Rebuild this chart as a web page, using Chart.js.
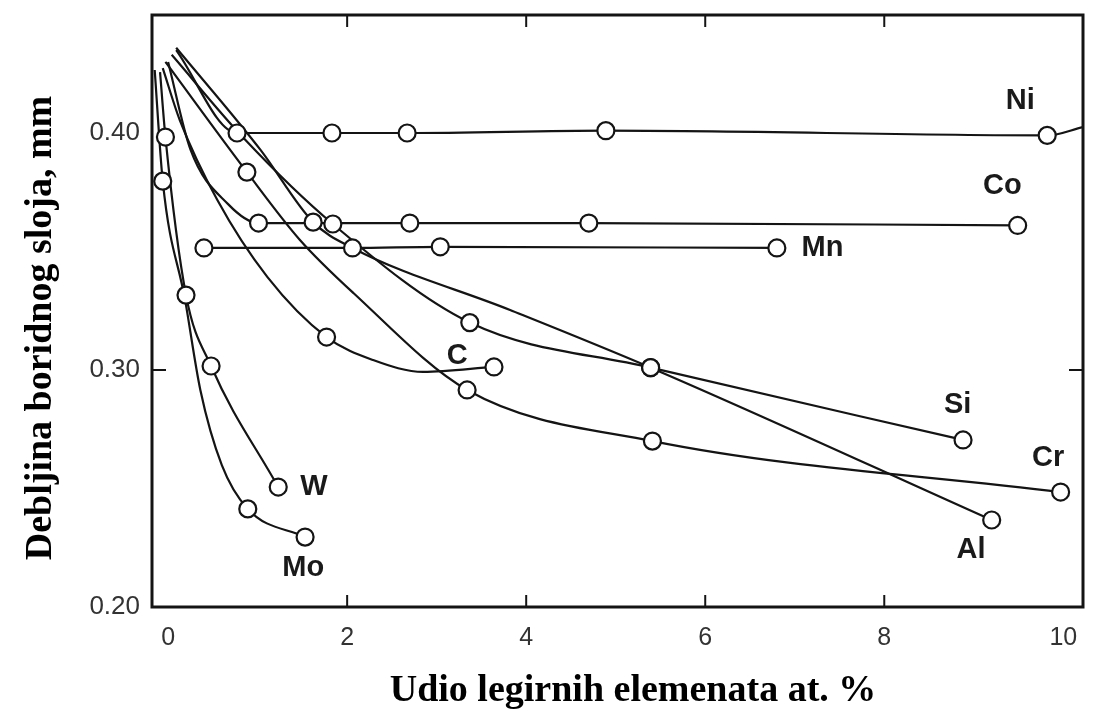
<!DOCTYPE html>
<html><head><meta charset="utf-8">
<script src="https://cdn.jsdelivr.net/npm/chart.js@4/dist/chart.umd.min.js"></script>
<style>html,body{margin:0;padding:0;background:#fff}</style>
</head><body>
<canvas id="c" width="1100" height="713"></canvas>
<script>
// ---- data (x: at.% alloying element, y: boride layer thickness, mm) ----
const xTicks = [0, 2, 4, 6, 8, 10];
const yTicks = [0.20, 0.30, 0.40];

// measured points (circles)
const niX = [0.77, 1.83, 2.67, 4.89, 9.82];
const niY = [0.400, 0.400, 0.400, 0.401, 0.399];
const coX = [1.01, 2.70, 4.70, 9.49];
const coY = [0.362, 0.362, 0.362, 0.361];
const mnX = [0.40, 2.06, 3.04, 6.80];
const mnY = [0.3515, 0.3515, 0.352, 0.3515];
const siX = [1.84, 3.37, 5.39, 8.88];
const siY = [0.3616, 0.320, 0.301, 0.2705];
const alX = [1.62, 5.39, 9.20];
const alY = [0.3624, 0.301, 0.2367];
const crX = [0.88, 3.34, 5.41, 9.97];
const crY = [0.3835, 0.2916, 0.270, 0.2485];
const cX = [1.77, 3.64];
const cY = [0.3139, 0.3013];
const wX = [-0.03, 0.20, 0.48, 1.23];
const wY = [0.3983, 0.3316, 0.3017, 0.2506];
const moX = [-0.06, 0.89, 1.53];
const moY = [0.3797, 0.2414, 0.2295];

// hand-drawn curve guide points (no circle)
const niGuideX = [0.09, 10.22];
const niGuideY = [0.435, 0.4025];
const coGuideX = [0.00, 0.25, 0.67];
const coGuideY = [0.430, 0.393, 0.370];
const mnGuideX = [];
const mnGuideY = [];
const siGuideX = [0.04, 0.84];
const siGuideY = [0.433, 0.398];
const alGuideX = [0.09, 1.03, 2.06, 3.82];
const alGuideY = [0.436, 0.393, 0.3515, 0.3253];
const crGuideX = [-0.03, 1.47, 2.07];
const crGuideY = [0.430, 0.355, 0.3325];
const cGuideX = [-0.06, 0.13, 0.55, 1.11, 2.29, 2.85];
const cGuideY = [0.4274, 0.4055, 0.3717, 0.3392, 0.3042, 0.2992];
const wGuideX = [-0.09];
const wGuideY = [0.4257];
const moGuideX = [-0.15, 0.19, 0.36, 0.60];
const moGuideY = [0.4266, 0.3295, 0.2916, 0.2599];

// curve labels
const labelText = ['Ni', 'Co', 'Mn', 'C', 'Si', 'Cr', 'Al', 'W', 'Mo'];
const labelX = [9.52, 9.32, 7.31, 3.23, 8.82, 9.83, 8.97, 1.63, 1.51];
const labelY = [0.4135, 0.3776, 0.3515, 0.3059, 0.2852, 0.2629, 0.2241, 0.2506, 0.2165];

const xTitle = 'Udio legirnih elemenata at. %';
const yTitle = 'Debljina boridnog sloja, mm';

// ---- build datasets ----
const elements = [
  [niX, niY, niGuideX, niGuideY],
  [coX, coY, coGuideX, coGuideY],
  [mnX, mnY, mnGuideX, mnGuideY],
  [siX, siY, siGuideX, siGuideY],
  [alX, alY, alGuideX, alGuideY],
  [crX, crY, crGuideX, crGuideY],
  [cX, cY, cGuideX, cGuideY],
  [wX, wY, wGuideX, wGuideY],
  [moX, moY, moGuideX, moGuideY]
];
const ink = '#141414';
const datasets = [];
elements.forEach(([mx, my, gx, gy]) => {
  const pts = mx.map((x, i) => ({x, y: my[i]})).concat(gx.map((x, i) => ({x, y: gy[i]})));
  pts.sort((a, b) => a.x - b.x);
  datasets.push({
    type: 'line', data: pts, borderColor: ink, borderWidth: 2.2,
    pointRadius: 0, cubicInterpolationMode: 'monotone', fill: false, order: 2
  });
  datasets.push({
    type: 'scatter', data: mx.map((x, i) => ({x, y: my[i]})),
    pointRadius: 8.5, pointBackgroundColor: '#fff', pointBorderColor: ink,
    pointBorderWidth: 2.2, order: 1
  });
});

const deco = {
  id: 'deco',
  afterDatasetsDraw(chart) {
    const {ctx, chartArea: a, scales: {x, y}} = chart;
    ctx.save();
    // frame
    ctx.strokeStyle = ink; ctx.lineWidth = 3;
    ctx.strokeRect(a.left, a.top, a.right - a.left, a.bottom - a.top);
    // inward ticks
    ctx.lineWidth = 2;
    [2, 4, 6, 8].forEach(v => {
      const px = x.getPixelForValue(v);
      ctx.beginPath(); ctx.moveTo(px, a.bottom); ctx.lineTo(px, a.bottom - 12); ctx.stroke();
      ctx.beginPath(); ctx.moveTo(px, a.top); ctx.lineTo(px, a.top + 12); ctx.stroke();
    });
    const py = y.getPixelForValue(0.30);
    ctx.beginPath(); ctx.moveTo(a.left, py); ctx.lineTo(a.left + 14, py); ctx.stroke();
    ctx.beginPath(); ctx.moveTo(a.right, py); ctx.lineTo(a.right - 14, py); ctx.stroke();
    // curve labels
    ctx.fillStyle = '#1a1a1a';
    ctx.font = 'bold 29px "Liberation Sans", Arial, sans-serif';
    ctx.textAlign = 'center'; ctx.textBaseline = 'middle';
    labelText.forEach((t, i) => ctx.fillText(t, x.getPixelForValue(labelX[i]), y.getPixelForValue(labelY[i])));
    // axis titles
    ctx.fillStyle = '#000';
    ctx.font = 'bold 38px "Liberation Serif", "Times New Roman", serif';
    ctx.fillText(xTitle, 633, 691);
    ctx.translate(41, 328); ctx.rotate(-Math.PI / 2);
    ctx.fillText(yTitle, 0, 0);
    ctx.restore();
  }
};

const noPad = s => { s.paddingTop = 0; s.paddingBottom = 0; s.paddingLeft = 0; s.paddingRight = 0; };

new Chart(document.getElementById('c'), {
  data: {datasets},
  options: {
    responsive: false, animation: false,
    layout: {padding: {top: 15, right: 17, left: 0, bottom: 0}},
    plugins: {legend: {display: false}, tooltip: {enabled: false}},
    scales: {
      x: {
        type: 'linear', min: -0.18, max: 10.22,
        afterBuildTicks: s => { s.ticks = xTicks.map(v => ({value: v})); },
        afterFit: s => { s.height = 106; noPad(s); },
        grid: {display: false, drawTicks: false}, border: {display: false},
        ticks: {color: '#333', padding: 16, font: {size: 25, family: '"Liberation Sans", Arial, sans-serif'},
          callback: v => String(v), maxRotation: 0}
      },
      y: {
        type: 'linear', min: 0.20, max: 0.4498,
        afterBuildTicks: s => { s.ticks = yTicks.map(v => ({value: v})); },
        afterFit: s => { s.width = 152; noPad(s); },
        grid: {display: false, drawTicks: false}, border: {display: false},
        ticks: {color: '#333', padding: 12, font: {size: 26, family: '"Liberation Sans", Arial, sans-serif'},
          callback: v => Number(v).toFixed(2)}
      }
    }
  },
  plugins: [deco]
});
</script>
</body></html>
